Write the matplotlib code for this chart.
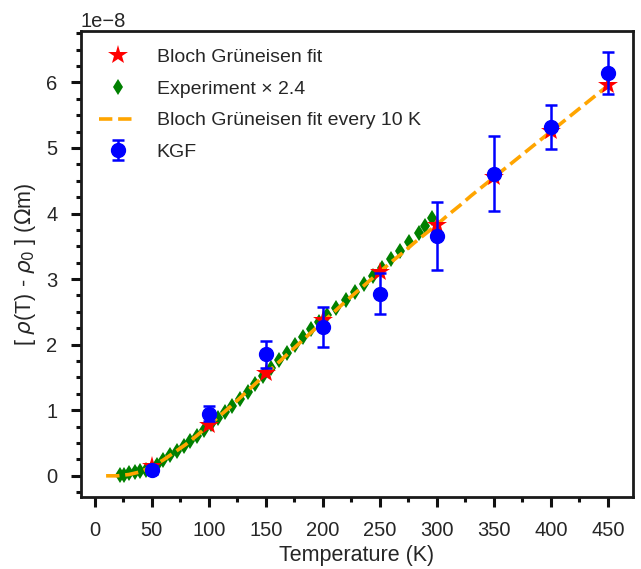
import numpy as np
import matplotlib
matplotlib.use("Agg")
import matplotlib.pyplot as plt
from matplotlib.ticker import MultipleLocator
from matplotlib.lines import Line2D
import seaborn as sns

sns.set_theme(style="ticks")
plt.rcParams['font.family'] = ['Liberation Sans', 'DejaVu Sans']
plt.rcParams['mathtext.fontset'] = 'dejavusans'

# Bloch-Grüneisen fit (every 50 K), units of 1e-8 Ohm m
bg_T = [50, 100, 150, 200, 250, 300, 350, 400, 450]
bg_rho = [0.15, 0.78, 1.57, 2.37, 3.11, 3.83, 4.55, 5.26, 5.96]

# Experiment x 2.4
exp_T = [22, 26, 30, 35, 40, 45, 50, 55, 60, 66, 72, 78, 84, 90, 96, 102, 108,
         114, 120, 127, 134, 141, 148, 155, 162, 169, 176, 183, 190, 197, 204,
         212, 220, 228, 236, 244, 252, 260, 268, 276, 284, 290, 296]
exp_rho = [0.01, 0.02, 0.04, 0.06, 0.08, 0.09, 0.12, 0.17, 0.24, 0.31, 0.38,
           0.45, 0.53, 0.61, 0.70, 0.79, 0.88, 0.97, 1.06, 1.17, 1.28, 1.40,
           1.52, 1.64, 1.76, 1.88, 2.00, 2.12, 2.24, 2.35, 2.45, 2.56, 2.68,
           2.80, 2.92, 3.05, 3.17, 3.30, 3.43, 3.57, 3.71, 3.81, 3.93]

# Bloch-Grüneisen fit every 10 K
fit_T = [10, 20, 30, 40, 50, 60, 70, 80, 90, 100, 110, 120, 130, 140, 150, 160,
         170, 180, 190, 200, 210, 220, 230, 240, 250, 260, 270, 280, 290, 300,
         310, 320, 330, 340, 350, 360, 370, 380, 390, 400, 410, 420, 430, 440, 450]
fit_rho = [0.0, 0.0, 0.02, 0.06, 0.14, 0.24, 0.36, 0.48, 0.62, 0.77, 0.92,
           1.07, 1.23, 1.39, 1.55, 1.71, 1.87, 2.03, 2.19, 2.35, 2.50, 2.66,
           2.81, 2.96, 3.11, 3.26, 3.40, 3.55, 3.69, 3.83, 3.98, 4.12, 4.27,
           4.41, 4.55, 4.69, 4.83, 4.97, 5.11, 5.25, 5.39, 5.53, 5.67, 5.81, 5.95]

# KGF
kgf_T = [50, 100, 150, 200, 250, 300, 350, 400, 450]
kgf_rho = [0.09, 0.95, 1.85, 2.27, 2.78, 3.66, 4.61, 5.32, 6.14]
kgf_err = [0.06, 0.12, 0.21, 0.30, 0.32, 0.52, 0.57, 0.33, 0.32]

scale = 1e-8

fig = plt.figure(figsize=(6.41, 5.69), dpi=100)
ax = fig.add_axes([81/641, 1-497/569, (633-81)/641, (497-31)/569])

ax.plot(exp_T, np.array(exp_rho)*scale, 'd', color='green', markersize=8,
        markeredgewidth=0, linestyle='none', zorder=2, label='Experiment × 2.4')
ax.plot(fit_T, np.array(fit_rho)*scale, '--', color='orange', lw=2.6, zorder=3,
        label='Bloch Grüneisen fit every 10 K')
ax.plot(bg_T, np.array(bg_rho)*scale, '*', color='red', markersize=15,
        markeredgewidth=0, linestyle='none', zorder=4, label='Bloch Grüneisen fit')
eb = ax.errorbar(kgf_T, np.array(kgf_rho)*scale, yerr=np.array(kgf_err)*scale,
                 fmt='o', color='blue', markersize=10, elinewidth=1.8,
                 capsize=4.5, capthick=1.8, zorder=5, label='KGF')

h_star = Line2D([], [], marker='*', color='red', markersize=15, markeredgewidth=0, linestyle='none')
h_dia = Line2D([], [], marker='d', color='green', markersize=8, markeredgewidth=0, linestyle='none')
h_line = Line2D([], [], linestyle='--', color='orange', lw=2.6)
ax.legend([h_star, h_dia, h_line, eb],
          ['Bloch Grüneisen fit', 'Experiment × 2.4', 'Bloch Grüneisen fit every 10 K', 'KGF'],
          loc='upper left', frameon=False, fontsize=14, handlelength=2.0,
          handletextpad=1.0, borderaxespad=0.5, labelspacing=0.72)

ax.xaxis.set_major_locator(MultipleLocator(50))
ax.xaxis.set_minor_locator(MultipleLocator(25))
ax.yaxis.set_major_locator(MultipleLocator(1e-8))
ax.yaxis.set_minor_locator(MultipleLocator(0.25e-8))

ax.tick_params(which='major', length=7, width=2.2, labelsize=14.5, colors='#111111',
               labelcolor='#262626', pad=10)
ax.tick_params(which='minor', length=3.8, width=2.2, colors='#111111')
for s in ax.spines.values():
    s.set_linewidth(2.0)
    s.set_color('#1a1a1a')

ax.set_xlabel('Temperature (K)', fontsize=15.5, color='#262626', labelpad=4)
ax.set_ylabel(r'[ $\rho$(T) - $\rho_0$ ] ($\Omega$m)', fontsize=15.5, color='#262626',
              labelpad=6)
ax.yaxis.get_offset_text().set_fontsize(14.5)
ax.yaxis.get_offset_text().set_color('#262626')

fig.savefig('out.png', dpi=100)
